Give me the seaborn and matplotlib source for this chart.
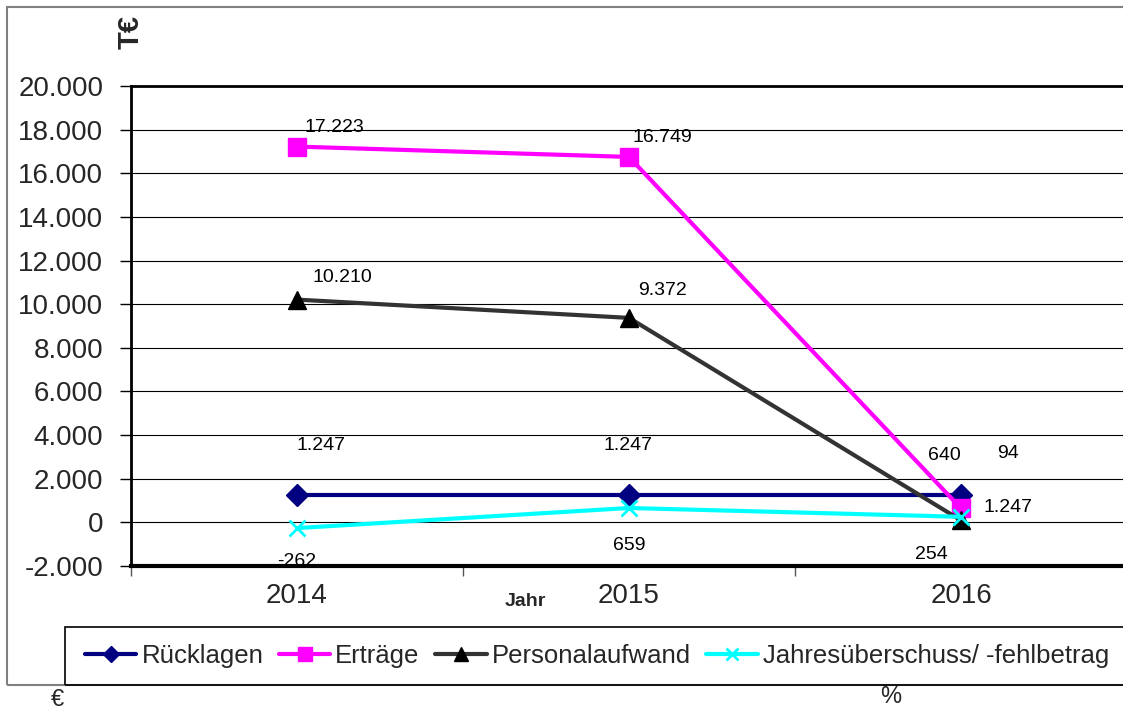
import numpy as np
import pandas as pd
import matplotlib
matplotlib.use("Agg")
import matplotlib.pyplot as plt
from matplotlib.patches import Rectangle
from matplotlib.ticker import FuncFormatter, FixedLocator
import seaborn as sns

# Daten
jahre = ["2014", "2015", "2016"]
ruecklagen = [1247, 1247, 1247]
ertraege = [17223, 16749, 640]
personalaufwand = [10210, 9372, 94]
jahresergebnis = [-262, 659, 254]

namen = ["Rücklagen", "Erträge", "Personalaufwand", "Jahresüberschuss/ -fehlbetrag"]
werte = [ruecklagen, ertraege, personalaufwand, jahresergebnis]

# Stil
linienfarben = ["#000080", "#FF00FF", "#333333", "#00FFFF"]
markerfarben = ["#000080", "#FF00FF", "#000000", "#00FFFF"]
marker = ["D", "s", "^", "x"]
markergroesse = [11, 13, 13, 11]

# Versatz der Datenbeschriftungen in Punkten (je Serie, je Jahr)
label_offset = [
    [(17, 36), (-1, 36), (34, -9)],
    [(27, 14), (24, 14), (-12, 38)],
    [(33, 16), (24, 20), (34, 48)],
    [(0, -24), (0, -27), (-21, -27)],
]

def fmt_de(v, pos=None):
    return f"{v:,.0f}".replace(",", ".")

sns.set_style("white")
plt.rcParams['font.family'] = ['Liberation Sans', 'DejaVu Sans']

W, H = 1123, 713
fig = plt.figure(figsize=(W / 100, H / 100), dpi=100)
ax = fig.add_axes([131 / W, (H - 566) / H, (1127 - 131) / W, (566 - 86) / H])

x = np.arange(len(jahre))
for i, name in enumerate(namen):
    sns.lineplot(x=x, y=werte[i], ax=ax, color=linienfarben[i], lw=3,
                 marker=marker[i], markersize=markergroesse[i],
                 markerfacecolor=markerfarben[i], markeredgecolor=markerfarben[i],
                 markeredgewidth=2 if marker[i] == "x" else 1,
                 label=name, zorder=3 + i)
    for j, v in enumerate(werte[i]):
        ax.annotate(fmt_de(v), xy=(x[j], v), xytext=label_offset[i][j],
                    textcoords="offset points", ha="center", va="center",
                    fontsize=14, color="black", zorder=10)

ax.set_xlim(-0.5, 2.5)
ax.set_ylim(-2000, 20000)
ax.set_yticks(np.arange(-2000, 20001, 2000))
ax.yaxis.set_major_formatter(FuncFormatter(fmt_de))
ax.tick_params(axis="y", labelsize=20, length=8, width=1, direction="out",
               pad=12, color="black", left=True)
ax.set_xticks(x)
ax.set_xticklabels(jahre)
ax.tick_params(axis="x", which="major", length=0, labelsize=20, pad=12)
ax.xaxis.set_minor_locator(FixedLocator([-0.5, 0.5, 1.5, 2.5]))
ax.tick_params(axis="x", which="minor", length=7, width=1, color="#555555",
               direction="out", bottom=True)
ax.grid(axis="y", color="black", lw=0.8)
ax.set_axisbelow(True)
ax.set_xlabel("")
ax.set_ylabel("")
ax.legend().remove()

for s in ["left", "top"]:
    ax.spines[s].set_visible(True)
    ax.spines[s].set_color("black")
    ax.spines[s].set_linewidth(2)
ax.spines["bottom"].set_color("black")
ax.spines["bottom"].set_linewidth(3)
ax.spines["right"].set_visible(False)

# Achsentitel
fig.text(131 / W, 1 - 32 / H, "T€", rotation=90, fontsize=21, fontweight="bold",
         ha="center", va="center")
fig.text(525 / W, 1 - 601 / H, "Jahr", fontsize=14, fontweight="bold",
         ha="center", va="center")
fig.text(57 / W, 1 - 700 / H, "€", fontsize=17, ha="center", va="center")
fig.text(891 / W, 1 - 697 / H, "%", fontsize=17, ha="center", va="center")

# Rahmen
fig.patches.append(Rectangle((7 / W, 1 - 685 / H), 2.0, (685 - 7) / H,
                             transform=fig.transFigure, fill=False,
                             edgecolor="#808080", lw=1.5, zorder=0))
fig.patches.append(Rectangle((65 / W, 1 - 685 / H), 2.0, (685 - 627) / H,
                             transform=fig.transFigure, fill=False,
                             edgecolor="black", lw=1.2, zorder=1))

handles, labels = ax.get_legend_handles_labels()
fig.legend(handles, labels, loc="center left", bbox_to_anchor=(85 / W, 1 - 656 / H),
           ncol=4, frameon=False, fontsize=18.5, handlelength=2.0, markerscale=0.75,
           handletextpad=0.2, columnspacing=0.6, borderpad=0, borderaxespad=0)

fig.savefig("out.png", dpi=100)
